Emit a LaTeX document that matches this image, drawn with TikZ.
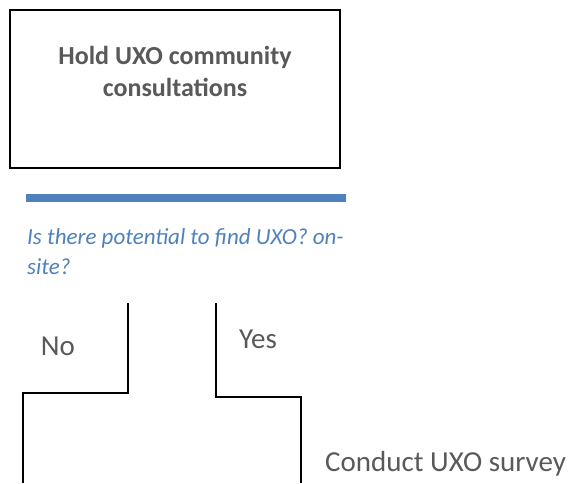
\documentclass[tikz,border=0pt]{standalone}
\usepackage{fontspec}
\usepackage{xcolor}
\usepackage{tikz}
\setmainfont{Carlito}

\definecolor{uxoblue}{HTML}{4F81BD}
\definecolor{uxogrey}{HTML}{595959}

\begin{document}
\begin{tikzpicture}[x=1pt, y=-1pt,
    stepbox/.style={draw, line width=1.8pt, minimum width=330, minimum height=158, align=center, text=uxogrey, font=\fontsize{26}{32}\selectfont\bfseries},
    answer/.style={text=uxogrey, font=\fontsize{29}{35}\selectfont, inner sep=0},
    branch/.style={line width=1.6pt}]
    \useasboundingbox (0,0) rectangle (579,483);

    % Consultation step
    \node[stepbox] (consult) at (175,89) {Hold UXO community\\consultations\\[4pt]\mbox{}};

    % Question bar and text
    \node[fill=uxoblue, minimum width=320, minimum height=8, inner sep=0] (bar) at (186,198) {};
    \node[anchor=west, align=left, inner sep=0, text=uxoblue, font=\fontsize{23}{30}\selectfont\itshape] (question) at (27,252) {Is there potential to find UXO? on-\\site?};

    % Branches
    \coordinate (noTop) at (128,303);
    \coordinate (noBend) at (23,393);
    \coordinate (noEnd) at (23,483);
    \coordinate (yesTop) at (216,303);
    \coordinate (yesBend) at (301,397);
    \coordinate (yesEnd) at (301,483);
    \draw[branch] (noTop) |- (noBend) -- (noEnd);
    \draw[branch] (yesTop) |- (yesBend) -- (yesEnd);

    \node[answer] (no) at (58,346) {No};
    \node[answer] (yes) at (258,339) {Yes};
    \node[answer, anchor=west] (survey) at (325,464) {Conduct UXO survey};
\end{tikzpicture}
\end{document}
